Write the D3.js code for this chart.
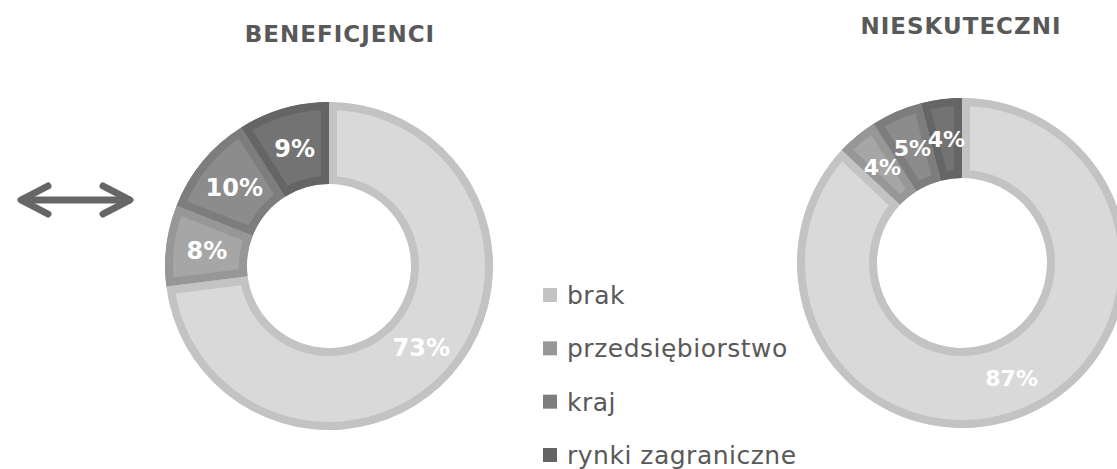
<!DOCTYPE html>
<html lang="pl">
<head>
	<meta charset="utf-8">
	<title>Beneficjenci / Nieskuteczni</title>
	<script src="https://d3js.org/d3.v7.min.js"></script>
	<style>
		body { margin: 0; background: #fff; }
		text { font-family: "DejaVu Sans", sans-serif; }
	</style>
</head>
<body>
<script>
	// Data
	var categories = ["brak", "przedsiębiorstwo", "kraj", "rynki zagraniczne"];
	var beneficjenci = [73, 8, 10, 9];
	var nieskuteczni = [87, 4, 5, 4];
	var titles = ["BENEFICJENCI", "NIESKUTECZNI"];

	var w = 1117;
	var h = 469;

	var fillColor = d3.scaleOrdinal()
		.domain(categories)
		.range(["#d9d9d9", "#a6a6a6", "#8c8c8c", "#737373"]);
	var borderColor = d3.scaleOrdinal()
		.domain(categories)
		.range(["#c3c3c3", "#979797", "#7d7d7d", "#656565"]);

	var svg = d3.select("body")
		.append("svg")
		.attr("width", w)
		.attr("height", h);

	var defs = svg.append("defs");

	var pie = d3.pie()
		.sort(null)
		.value(function(d) { return d.value; });

	// one donut
	function drawDonut(values, cx, cy, rOut, rIn, title, titleX, titleY, labelSize, id) {
		var rows = categories.map(function(c, i) { return { cat: c, value: values[i] }; });
		var arc = d3.arc().innerRadius(rIn).outerRadius(rOut);
		var g = svg.append("g").attr("transform", "translate(" + cx + "," + cy + ")");

		var arcs = pie(rows);

		// clip each slice to itself so the stroke only shows on the inside
		arcs.forEach(function(d, i) {
			defs.append("clipPath")
				.attr("id", id + "-clip" + i)
				.append("path")
				.attr("d", arc(d));
		});

		g.selectAll("path.slice")
			.data(arcs)
			.enter()
			.append("path")
			.attr("class", "slice")
			.attr("d", arc)
			.attr("fill", function(d) { return fillColor(d.data.cat); })
			.attr("stroke", function(d) { return borderColor(d.data.cat); })
			.attr("stroke-width", 16)
			.attr("clip-path", function(d, i) { return "url(#" + id + "-clip" + i + ")"; });

		g.selectAll("text.lbl")
			.data(arcs)
			.enter()
			.append("text")
			.attr("class", "lbl")
			.attr("transform", function(d) { return "translate(" + arc.centroid(d) + ")"; })
			.attr("text-anchor", "middle")
			.attr("dy", "0.36em")
			.attr("fill", "#fff")
			.attr("font-weight", "bold")
			.attr("font-size", labelSize)
			.text(function(d) { return d.data.value + "%"; });

		svg.append("text")
			.attr("x", titleX)
			.attr("y", titleY)
			.attr("text-anchor", "middle")
			.attr("fill", "#595959")
			.attr("font-weight", "bold")
			.attr("font-size", 23)
			.attr("letter-spacing", 1)
			.text(title);
	}

	drawDonut(beneficjenci, 329, 266, 164, 82, titles[0], 340, 42, 24, "ben");
	drawDonut(nieskuteczni, 962, 263, 165, 85, titles[1], 961, 34, 22, "nie");

	// legend
	var legend = svg.append("g");
	var ly = d3.scalePoint().domain(categories).range([295, 455]);
	var item = legend.selectAll("g")
		.data(categories)
		.enter()
		.append("g")
		.attr("transform", function(d) { return "translate(543," + ly(d) + ")"; });
	item.append("rect")
		.attr("x", 0)
		.attr("y", -7)
		.attr("width", 14)
		.attr("height", 14)
		.attr("fill", function(d) { return borderColor(d); });
	item.append("text")
		.attr("x", 24)
		.attr("dy", "0.36em")
		.attr("fill", "#595959")
		.attr("font-size", 25)
		.attr("letter-spacing", 0.5)
		.text(function(d) { return d; });

	// double arrow on the left
	var arrow = svg.append("g")
		.attr("stroke", "#666")
		.attr("stroke-width", 7)
		.attr("stroke-linecap", "round")
		.attr("stroke-linejoin", "round")
		.attr("fill", "none");
	arrow.append("line").attr("x1", 22).attr("y1", 200).attr("x2", 129).attr("y2", 200);
	arrow.append("path").attr("d", "M48,186 L21,200 L48,214");
	arrow.append("path").attr("d", "M103,186 L130,200 L103,214");
</script>
</body>
</html>
